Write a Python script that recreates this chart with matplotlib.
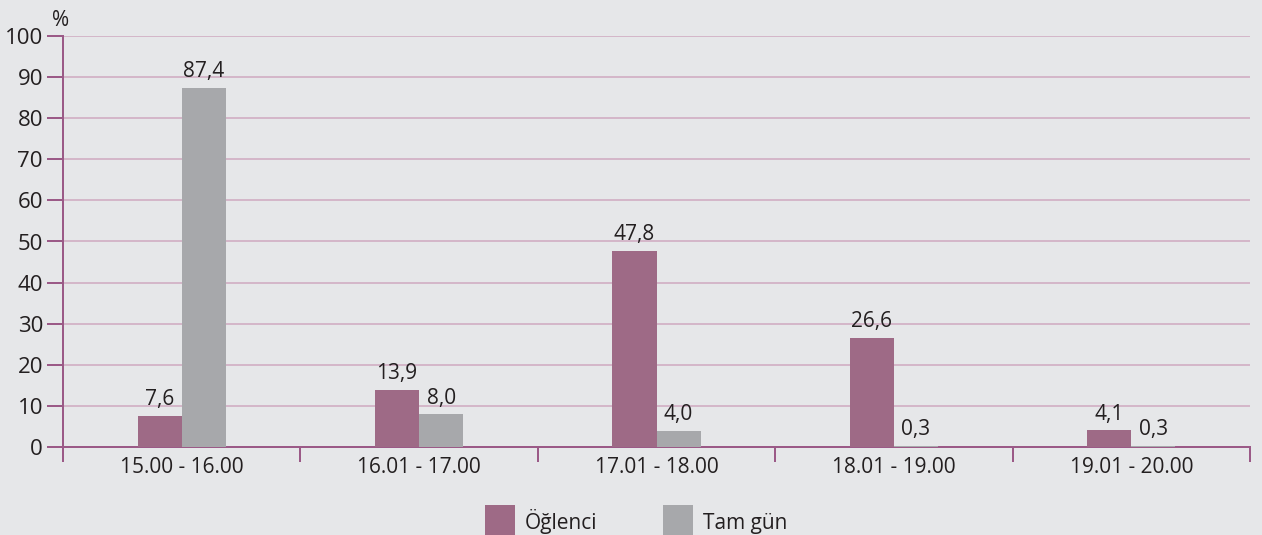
import matplotlib
matplotlib.use("Agg")
import matplotlib.pyplot as plt
from matplotlib.patches import Rectangle
from matplotlib import font_manager
import numpy as np

categories = ["15.00 - 16.00", "16.01 - 17.00", "17.01 - 18.00", "18.01 - 19.00", "19.01 - 20.00"]
ogle = [7.6, 13.9, 47.8, 26.6, 4.1]
tamgun = [87.4, 8.0, 4.0, 0.3, 0.3]
series_names = ["Öğlenci", "Tam gün"]
yticks = list(range(0, 101, 10))

names = {f.name for f in font_manager.fontManager.ttflist}
family = [f for f in ["Liberation Sans Narrow", "Open Sans", "DejaVu Sans"] if f in names]
plt.rcParams["font.family"] = family

BG = "#e6e7e9"
PURPLE = "#9e6a86"
GRAY = "#a7a8ab"
AXIS = "#9b5a87"
GRID = "#cfa8bf"
TEXT = "#231f20"

PT = 0.72  # points per pixel at 100 dpi

W, H = 1262, 535
fig = plt.figure(figsize=(W / 100, H / 100), dpi=100, facecolor=BG)
ax = fig.add_axes([63 / W, 1 - 447 / H, (1250 - 63) / W, (447 - 36) / H])
ax.set_facecolor(BG)

x = np.arange(len(categories))
bw = 0.186
b1 = ax.bar(x - bw / 2, ogle, bw, color=PURPLE, zorder=3)
b2 = ax.bar(x + bw / 2, tamgun, bw, color=GRAY, zorder=3)

def fmt(v):
    return f"{v:.1f}".replace(".", ",")

for bars, vals in ((b1, ogle), (b2, tamgun)):
    for r, v in zip(bars, vals):
        ax.annotate(fmt(v), (r.get_x() + r.get_width() / 2, v), xytext=(0, 4),
                    textcoords="offset points", ha="center", va="bottom",
                    fontsize=15, color=TEXT, zorder=4)

ax.set_xlim(-0.5, len(categories) - 0.5)
ax.set_ylim(0, 100)
ax.set_yticks(yticks)
ax.set_yticklabels([str(t) for t in yticks])
ax.yaxis.grid(True, color=GRID, lw=1.5 * PT, zorder=1)
ax.set_axisbelow(True)

ax.set_xticks(np.arange(-0.5, len(categories), 1.0))
ax.set_xticklabels([])
ax.set_xticks(x, minor=True)
ax.set_xticklabels(categories, minor=True)
ax.tick_params(axis="x", which="major", length=15 * PT, width=2 * PT, color=AXIS,
               direction="out")
ax.tick_params(axis="x", which="minor", length=0, pad=7, labelsize=15, labelcolor=TEXT)
ax.tick_params(axis="y", length=16 * PT, width=2 * PT, color=AXIS, direction="out",
               pad=4 * PT, labelsize=16, labelcolor=TEXT)

for s in ("top", "right"):
    ax.spines[s].set_visible(False)
for s in ("left", "bottom"):
    ax.spines[s].set_color(AXIS)
    ax.spines[s].set_linewidth(2 * PT)

fig.text(52 / W, 1 - 26 / H, "%", fontsize=15, color=TEXT, ha="left", va="baseline")

# legend squares and labels below the plot
legend_items = [(485, PURPLE, series_names[0]), (663, GRAY, series_names[1])]
for px, col, name in legend_items:
    fig.patches.append(Rectangle((px / W, -10 / H), 30 / W, 40 / H,
                                 transform=fig.transFigure, facecolor=col,
                                 edgecolor="none"))
    fig.text((px + 40) / W, 1 - 529 / H, name, fontsize=15, color=TEXT,
             ha="left", va="baseline")

fig.savefig("out.png", dpi=100, facecolor=BG)
